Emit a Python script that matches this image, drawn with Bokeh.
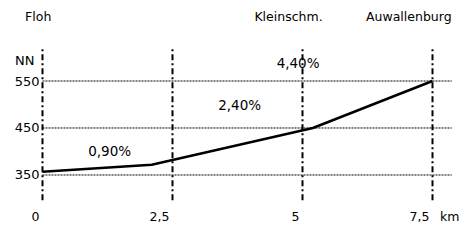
from bokeh.plotting import figure
from bokeh.models import Range1d
from bokeh.core.properties import value
from bokeh.embed import file_html
from bokeh.resources import INLINE

# ---- data ----
route_km = [0, 2.1, 5.2, 7.5]
route_elev = [357, 372, 450, 550]

x_ticks = [0, 2.5, 5, 7.5]
x_tick_labels = ["0", "2,5", "5", "7,5"]
x_unit = "km"

y_ticks = [350, 450, 550]
y_tick_labels = ["350", "450", "550"]
y_unit = "NN"

places = ["Floh", "Kleinschm.", "Auwallenburg"]
gradients = ["0,90%", "2,40%", "4,40%"]

# ---- layout ----
W, H = 459, 225
FONT = value("DejaVu Sans")

p = figure(width=W, height=H, output_backend="svg", toolbar_location=None,
           x_range=Range1d(-0.80769, 8.01923), y_range=Range1d(242.55, 721.28),
           min_border=0, min_border_left=0, min_border_right=0,
           min_border_top=0, min_border_bottom=0)
p.axis.visible = False
p.grid.visible = False
p.outline_line_color = None
p.background_fill_color = "white"
p.border_fill_color = "white"

# horizontal dotted lines
p.segment(x0=[0] * len(y_ticks), x1=[7.87] * len(y_ticks), y0=y_ticks, y1=y_ticks,
          line_color="black", line_width=1, line_dash="2 1")

# vertical dash-dot lines
p.segment(x0=x_ticks, x1=x_ticks, y0=[296.2] * len(x_ticks), y1=[621.9] * len(x_ticks),
          line_color="black", line_width=2, line_dash="6 3 2 3")

# route profile
p.line(route_km, route_elev, line_color="black", line_width=2.5)

# y tick labels
p.text(x=[0] * len(y_ticks), y=y_ticks, text=y_tick_labels, x_offset=-3,
       text_align="right", text_baseline="middle", text_font=FONT,
       text_font_size="13px", text_color="black")
p.text(x=[0], y=[594.5], text=[y_unit], x_offset=-8,
       text_align="right", text_baseline="middle", text_font=FONT,
       text_font_size="13px", text_color="black")

# x tick labels
p.text(x=x_ticks, y=[262.0] * len(x_ticks), text=x_tick_labels, x_offset=-3,
       text_align="right", text_baseline="alphabetic", text_font=FONT,
       text_font_size="12.5px", text_color="black")
p.text(x=[7.5], y=[262.0], text=[x_unit], x_offset=7.5,
       text_align="left", text_baseline="alphabetic", text_font=FONT,
       text_font_size="12.5px", text_color="black")

# place names
p.text(x=[-0.083, 4.731, 7.044], y=[686.6] * 3, text=places,
       text_align="center", text_baseline="middle", text_font=FONT,
       text_font_size="12.5px", text_color="black")

# gradients
p.text(x=[1.292, 3.792, 4.915], y=[401.5, 498.7, 589.1], text=gradients,
       text_align="center", text_baseline="middle", text_font=FONT,
       text_font_size="13.5px", text_color="black")

open("out.html", "w").write(file_html(p, INLINE))
